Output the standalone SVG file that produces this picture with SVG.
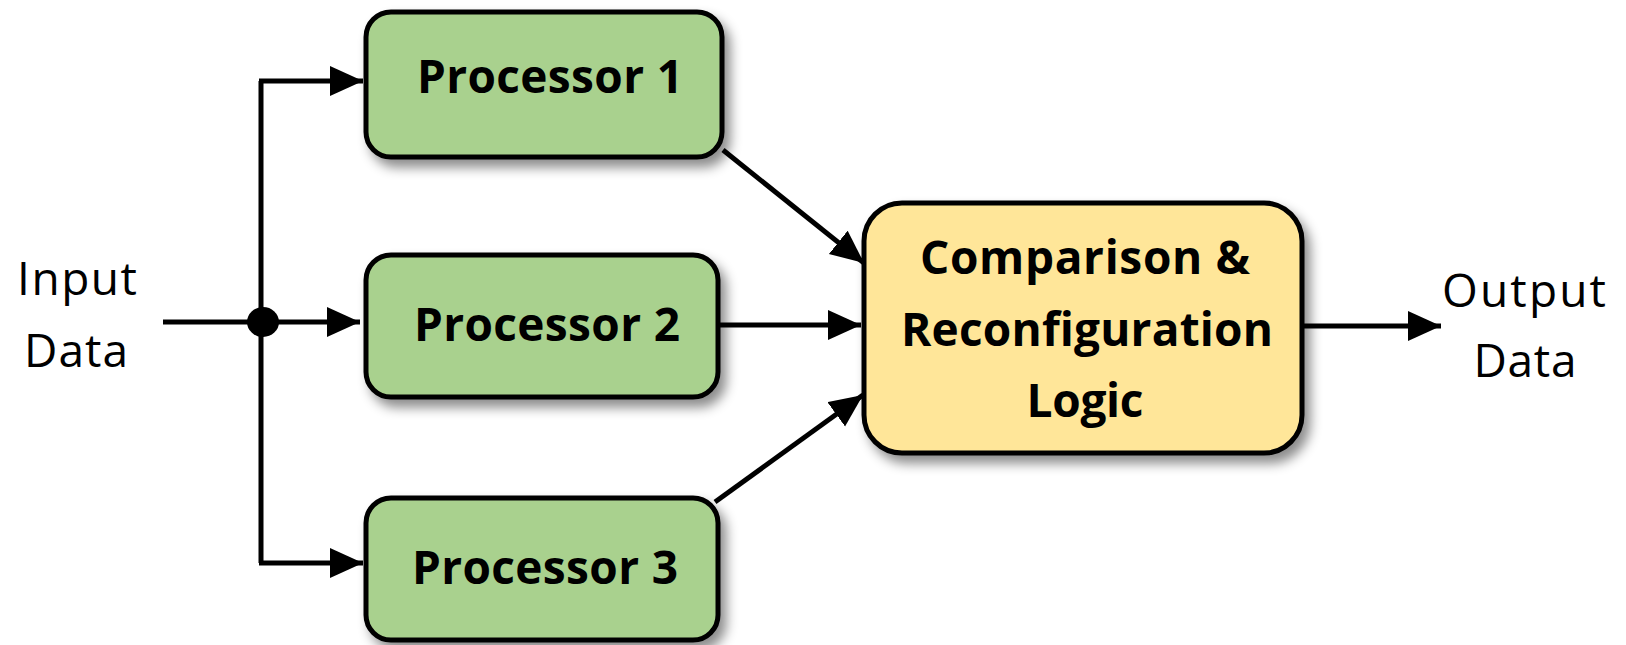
<svg xmlns="http://www.w3.org/2000/svg" width="1626" height="645" viewBox="0 0 1626 645">
  <defs>
    <filter id="shadow" x="-10%" y="-10%" width="130%" height="140%">
      <feDropShadow dx="6" dy="8" stdDeviation="6" flood-color="#000" flood-opacity="0.45"/>
    </filter>
    <marker id="arrow" markerUnits="userSpaceOnUse" markerWidth="34" markerHeight="32" refX="33" refY="15" orient="auto">
      <path d="M0,0 L33,15 L0,30 Z" fill="#000"/>
    </marker>
  </defs>
  <style>
    .proc { fill: #a9d18e; stroke: #000; stroke-width: 5; filter: url(#shadow); }
    .logic { fill: #ffe699; stroke: #000; stroke-width: 5; filter: url(#shadow); }
    .label { font-family: "Open Sans", "Liberation Sans", sans-serif; font-weight: 700; font-size: 46px; fill: #000; text-anchor: middle; }
    .io { font-family: "Open Sans", "Liberation Sans", sans-serif; font-weight: 400; font-size: 46px; fill: #000; text-anchor: middle; }
    .wire { fill: none; stroke: #000; stroke-width: 5; }
  </style>

  <rect width="1626" height="645" fill="#fff"/>

  <!-- connectors -->
  <g id="connectors">
    <path class="wire" d="M163,322 H263"/>
    <path class="wire" d="M261,81 V563"/>
    <path class="wire" d="M259,81 H363" marker-end="url(#arrow)"/>
    <path class="wire" d="M263,322 H360" marker-end="url(#arrow)"/>
    <path class="wire" d="M259,563 H363" marker-end="url(#arrow)"/>
    <ellipse cx="263" cy="322" rx="16" ry="15" fill="#000"/>
    <path class="wire" d="M723,150 L864,263" stroke-width="4.5" marker-end="url(#arrow)"/>
    <path class="wire" d="M720,325 H861" marker-end="url(#arrow)"/>
    <path class="wire" d="M715,502 L863,395" stroke-width="4.5" marker-end="url(#arrow)"/>
    <path class="wire" d="M1302,326 H1441" marker-end="url(#arrow)"/>
  </g>

  <!-- input / output labels -->
  <g id="input-data">
    <text class="io" x="77" y="295" textLength="120">Input</text>
    <text class="io" x="76" y="367" textLength="104">Data</text>
  </g>
  <g id="output-data">
    <text class="io" x="1524" y="307" textLength="164">Output</text>
    <text class="io" x="1525" y="377" textLength="103">Data</text>
  </g>

  <!-- processors -->
  <g id="processor-1">
    <rect class="proc" x="366" y="12" width="356" height="145" rx="25" ry="25"/>
    <text class="label" x="550" y="93" textLength="266">Processor 1</text>
  </g>
  <g id="processor-2">
    <rect class="proc" x="366" y="255" width="352" height="142" rx="25" ry="25"/>
    <text class="label" x="547" y="341" textLength="266">Processor 2</text>
  </g>
  <g id="processor-3">
    <rect class="proc" x="366" y="498" width="352" height="142" rx="25" ry="25"/>
    <text class="label" x="545" y="584" textLength="266">Processor 3</text>
  </g>

  <!-- voter / reconfiguration block -->
  <g id="comparison-logic">
    <rect class="logic" x="864" y="203" width="438" height="250" rx="38" ry="38"/>
    <text class="label" x="1085" y="274" textLength="330">Comparison &amp;</text>
    <text class="label" x="1087" y="346" textLength="372">Reconfiguration</text>
    <text class="label" x="1085" y="417" textLength="117">Logic</text>
  </g>
</svg>
